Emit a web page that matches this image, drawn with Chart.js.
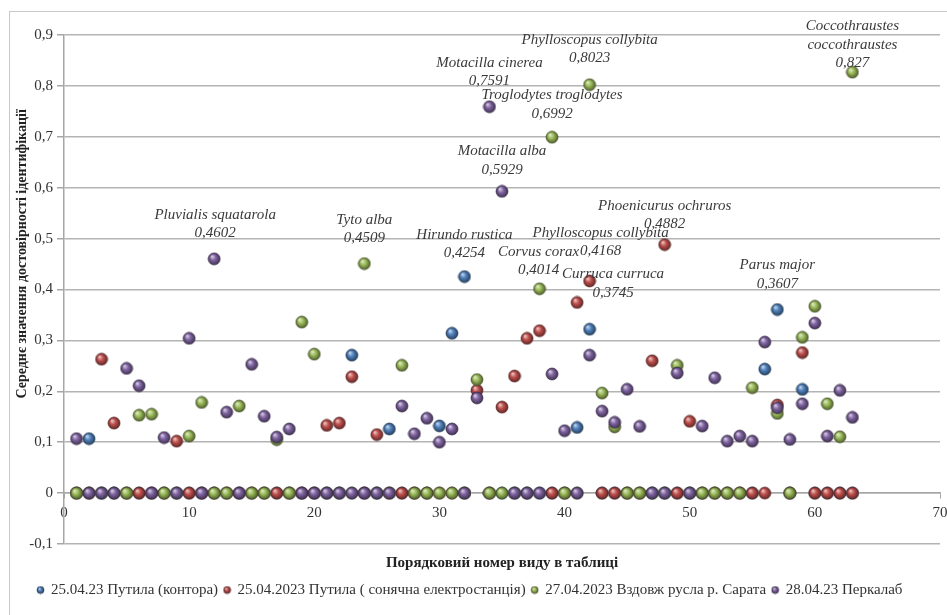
<!DOCTYPE html>
<html><head><meta charset="utf-8">
<script src="https://cdn.jsdelivr.net/npm/chart.js@4.4.0/dist/chart.umd.min.js"></script>
<style>html,body{margin:0;padding:0;background:#fff}#wrap{width:947px;height:615px;position:relative}</style>
</head><body><div id="wrap"><canvas id="c"></canvas></div>
<script>
// ---- DATA ----
const speciesNo = [1,2,3,4,5,6,7,8,9,10,11,12,13,14,15,16,17,18,19,20,21,22,23,24,25,26,27,28,29,30,31,32,33,34,35,36,37,38,39,40,41,42,43,44,45,46,47,48,49,50,51,52,53,54,55,56,57,58,59,60,61,62,63];
const seriesNames = ['25.04.23 Путила (контора)','25.04.2023 Путила ( сонячна електростанція)','27.04.2023 Вздовж русла р. Сарата','28.04.23 Перкалаб'];
const putylaOffice = [0,0.107,0,0,0,0,0,0,0,0, 0,0,0,0,0,0,0,0,0,0, 0,0,0.271,0,0,0.126,0,0,0,0.132, 0.314,0.4254,null,0,0,0,0,0,0,0, 0.129,0.322,0,0,0,0,0,0,0,0, 0,0,0,0,0,0.2436,0.3607,0,0.2037,0, 0,0,0];
const putylaSolar = [0,0,0.263,0.1375,0,0,0,0,0.102,0, 0,0,0,0,0,0,0,0,0,0, 0.133,0.1375,0.2286,0,0.115,0,0,0,0,0, 0,0,0.202,0,0.169,0.23,0.304,0.319,0,0, 0.3745,0.4168,0,0,0,0,0.26,0.4882,0,0.141, 0,0,0,0,0,0,0.173,0,0.276,0, 0,0,0];
const sarataRiver = [0,0,0,0,0,0.153,0.155,0,0,0.112, 0.178,0,0,0.171,0,0,0.105,0,0.336,0.273, 0,0,0,0.4509,0,0,0.251,0,0,0, 0,0,0.223,0,0,0,0,0.4014,0.6992,0, 0,0.8023,0.1965,0.130,0,0,0,0,0.251,0, 0,0,0,0,0.207,null,0.1565,0,0.306,0.367, 0.1755,0.1107,0.827];
const perkalab = [0.107,0,0,0,0.245,0.211,0,0.109,0,0.304, 0,0.4602,0.159,0,0.253,0.151,0.11,0.126,0,0, 0,0,0,0,0,0,0.171,0.1165,0.147,0.100, 0.126,0,0.187,0.7591,0.5929,0,0,0,0.234,0.1225, 0,0.271,0.161,0.139,0.204,0.131,0,0,0.236,0, 0.1316,0.2265,0.102,0.112,0.102,0.2967,0.1676,0.1054,0.1755,0.334, 0.112,0.2017,0.1487];
const yTicks = [-0.1,0,0.1,0.2,0.3,0.4,0.5,0.6,0.7,0.8,0.9];
const xTicks = [0,10,20,30,40,50,60,70];
const xTitle = 'Порядковий номер виду в таблиці';
const yTitle = 'Середнє значення достовірності ідентифікації';
// labelled points: series index, species number, name lines
const labelled = [
  {s:3, x:12, name:['Pluvialis squatarola']},
  {s:2, x:24, name:['Tyto alba']},
  {s:0, x:32, name:['Hirundo rustica']},
  {s:3, x:34, name:['Motacilla cinerea']},
  {s:2, x:42, name:['Phylloscopus collybita']},
  {s:2, x:39, name:['Troglodytes troglodytes']},
  {s:3, x:35, name:['Motacilla alba']},
  {s:1, x:48, name:['Phoenicurus ochruros']},
  {s:1, x:42, name:['Phylloscopus collybita']},
  {s:2, x:38, name:['Corvus corax']},
  {s:1, x:41, name:['Curruca curruca']},
  {s:0, x:57, name:['Parus major']},
  {s:2, x:63, name:['Coccothraustes','coccothraustes']}
];
// label pixel offsets (style), same order as labelled
const labelOffsets = [[1,-44],[0,-44],[0,-42],[0,-44],[0,-45],[0,-42],[0,-40],[0,-39],[11,-48],[-1,-37],[36,-28],[0,-44],[0,-46]];

// ---- STYLE ----
const colors = ['#4F81BD','#C0504D','#9BBB59','#8064A2'];
const allSeries = [putylaOffice, putylaSolar, sarataRiver, perkalab];
const SERIF = '"Liberation Serif","Times New Roman",serif';

function rgb(hex){const n=parseInt(hex.slice(1),16);return [(n>>16)&255,(n>>8)&255,n&255];}
function mix(hex,to,t){const c=rgb(hex);return 'rgb('+c.map((v,i)=>Math.round(v+(to[i]-v)*t)).join(',')+')';}
function sphere(hex,d){
  const s=d+2,c=document.createElement('canvas');c.width=s;c.height=s;
  const g=c.getContext('2d'),r=d/2,cx=s/2,cy=s/2;
  const gr=g.createRadialGradient(cx-r*0.35,cy-r*0.42,r*0.05,cx,cy,r);
  gr.addColorStop(0,mix(hex,[255,255,255],0.7));
  gr.addColorStop(0.45,hex);
  gr.addColorStop(1,mix(hex,[0,0,0],0.5));
  g.beginPath();g.arc(cx,cy,r,0,Math.PI*2);g.fillStyle=gr;g.fill();
  g.lineWidth=0.7;g.strokeStyle=mix(hex,[0,0,0],0.55);g.stroke();
  return c;
}
const bigSpheres = colors.map(c=>sphere(c,12));
const smallSpheres = colors.map(c=>sphere(c,7));

const fmt = v => String(v).replace('.', ',');

const framePlugin = {
  id:'frame',
  beforeDraw(chart){
    const ctx=chart.ctx;ctx.save();ctx.fillStyle='#fff';ctx.fillRect(0,0,chart.width,chart.height);
    ctx.strokeStyle='#c8c8c8';ctx.lineWidth=1;ctx.strokeRect(9.5,11.5,2000,2000);ctx.restore();
  }
};
const yTitlePlugin = {
  id:'yTitle',
  afterDraw(chart){
    const ctx=chart.ctx,ys=chart.scales.y;
    ctx.save();ctx.translate(22, ys.getPixelForValue(0.47));ctx.rotate(-Math.PI/2);
    ctx.font='bold 14px '+SERIF;ctx.fillStyle='#222';ctx.textAlign='center';ctx.textBaseline='middle';
    ctx.fillText(yTitle,0,0);ctx.restore();
  }
};
const labelPlugin = {
  id:'pointLabels',
  afterDatasetsDraw(chart){
    const ctx=chart.ctx,xs=chart.scales.x,ys=chart.scales.y;
    ctx.save();ctx.font='italic 15px '+SERIF;ctx.fillStyle='#3a3a3a';ctx.textAlign='center';ctx.textBaseline='middle';
    labelled.forEach((l,i)=>{
      const v=allSeries[l.s][speciesNo.indexOf(l.x)];
      const px=xs.getPixelForValue(l.x)+labelOffsets[i][0];
      let py=ys.getPixelForValue(v)+labelOffsets[i][1];
      l.name.concat([fmt(v)]).forEach(t=>{ctx.fillText(t,px,py);py+=18.5;});
    });
    ctx.restore();
  }
};

const datasets = allSeries.map((arr,i)=>({
  label: seriesNames[i],
  data: speciesNo.map((x,j)=>({x:x,y:arr[j]})),
  pointStyle: bigSpheres[i],
  pointRadius: 6,
  backgroundColor: colors[i],
  borderColor: colors[i],
  showLine:false,
  order: 3-i
}));

new Chart(document.getElementById('c'),{
  type:'scatter',
  data:{datasets},
  plugins:[framePlugin,labelPlugin,yTitlePlugin],
  options:{
    responsive:true,maintainAspectRatio:false,animation:false,
    layout:{padding:{left:0,top:35,right:7,bottom:7.5}},
    scales:{
      x:{type:'linear',min:0,max:70,position:{y:0},
        afterBuildTicks(s){s.ticks=xTicks.map(v=>({value:v}));},
        afterFit(s){s.paddingLeft=0;s.paddingRight=0;},
        ticks:{font:{family:SERIF,size:15},color:'#333',padding:6,maxRotation:0},
        grid:{drawOnChartArea:false,drawTicks:true,tickLength:5,color:'#a6a6a6'},
        border:{color:'#a6a6a6',width:1.5}
      },
      y:{min:-0.1,max:0.9,
        afterBuildTicks(s){s.ticks=yTicks.map(v=>({value:v}));},
        afterFit(s){s.width=64;s.paddingTop=0;s.paddingBottom=0;},
        ticks:{font:{family:SERIF,size:15},color:'#333',padding:4,callback:v=>fmt(Math.round(v*10)/10)},
        grid:{color:'#b4b4b4',lineWidth:1.5,tickLength:7,tickColor:'#a6a6a6'},
        border:{color:'#a6a6a6',width:1.5},
        title:{display:false}
      }
    },
    plugins:{
      tooltip:{enabled:false},
      title:{display:true,position:'bottom',fullSize:false,weight:500,text:xTitle,font:{family:SERIF,size:15,weight:'bold'},color:'#222',padding:{top:10,bottom:4.5}},
      legend:{position:'bottom',
        labels:{usePointStyle:true,boxWidth:6,boxHeight:7,padding:6,font:{family:SERIF,size:15},color:'#333',
          sort:(a,b)=>a.datasetIndex-b.datasetIndex,
          generateLabels(chart){
            return Chart.defaults.plugins.legend.labels.generateLabels(chart).map(it=>{it.pointStyle=smallSpheres[it.datasetIndex];return it;});
          }
        }
      }
    }
  }
});
</script></body></html>
